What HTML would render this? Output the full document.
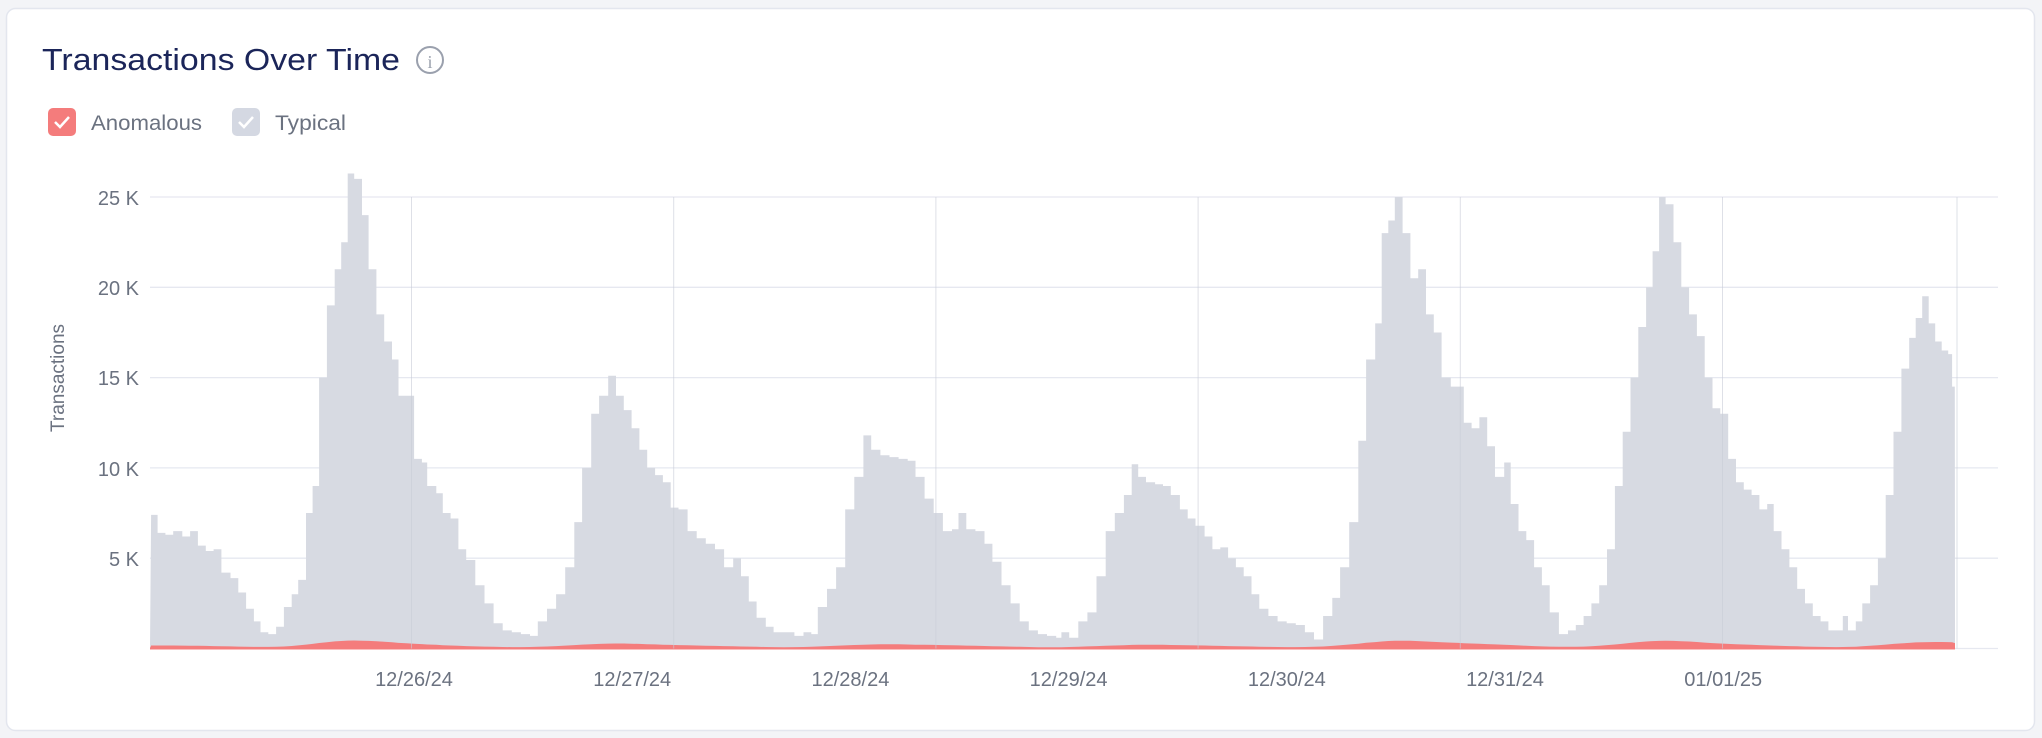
<!DOCTYPE html>
<html><head><meta charset="utf-8"><style>
html,body{margin:0;padding:0;background:#f3f4f7;width:2042px;height:738px;overflow:hidden;font-family:"Liberation Sans",sans-serif}
</style></head><body>
<svg id="s" width="2042" height="738" xmlns="http://www.w3.org/2000/svg" style="position:absolute;left:0;top:0">
<rect x="6.5" y="8.5" width="2028" height="722" rx="9" fill="#fff" stroke="#e3e6ee" stroke-width="1.5"/>
<text x="42" y="70" font-size="31" fill="#1b2559" textLength="358" lengthAdjust="spacingAndGlyphs" font-family="Liberation Sans, sans-serif">Transactions Over Time</text>
<circle cx="430" cy="60" r="13" fill="none" stroke="#9aa0ad" stroke-width="2"/>
<text x="430" y="68" font-size="18" fill="#9aa0ad" text-anchor="middle" font-family="Liberation Serif, serif">i</text>
<rect x="48" y="108" width="28" height="28" rx="5" fill="#f47c7c"/>
<path d="M55 122 l5 5 l9 -10" fill="none" stroke="#fff" stroke-width="2.5"/>
<text x="91" y="130" font-size="21" fill="#6b7280" textLength="111" lengthAdjust="spacingAndGlyphs">Anomalous</text>
<rect x="232" y="108" width="28" height="28" rx="5" fill="#d4d8e2"/>
<path d="M239 122 l5 5 l9 -10" fill="none" stroke="#fff" stroke-width="2.5"/>
<text x="275" y="130" font-size="21" fill="#6b7280" textLength="71" lengthAdjust="spacingAndGlyphs">Typical</text>
<g id="grid" stroke="#e6e8f0" stroke-width="1.3"></g>
<g id="bars"></g>
<g id="vgrid" stroke="#c9cdd8" stroke-width="1" opacity="0.6"></g>
<g font-size="20" fill="#6b7280" text-anchor="end">
<text x="139" y="205">25 K</text><text x="139" y="295">20 K</text><text x="139" y="385">15 K</text><text x="139" y="476">10 K</text><text x="139" y="566">5 K</text>
</g>
<text transform="translate(64,378) rotate(-90)" font-size="19" fill="#6b7280" text-anchor="middle">Transactions</text>
<g font-size="20" fill="#6b7280" text-anchor="middle" id="xl"></g>
</svg>
<script>
var S=1.3023, base=648.5, k=18.06;
var pts=[[116,7.4],[121,6.4],[127,6.3],[133,6.5],[140,6.2],[146,6.5],[152,5.7],[158,5.4],[164,5.5],[170,4.2],[177,3.9],[183,3.1],[189,2.2],[195,1.5],[200,0.9],[206,0.8],[212,1.2],[218,2.3],[224,3.0],[229,3.8],[235,7.5],[240,9],[245,15],[251,19],[257,21],[262,22.5],[267,26.3],[272,26],[278,24],[283,21],[289,18.5],[295,17],[301,16],[306,14],[312,14],[318,10.5],[324,10.3],[328,9],[335,8.6],[340,7.5],[346,7.2],[352,5.5],[358,4.9],[365,3.5],[372,2.5],[379,1.4],[386,1.0],[393,0.9],[400,0.8],[407,0.7],[413,1.5],[420,2.2],[427,3.0],[434,4.5],[441,7.0],[447,10],[454,13],[460,14],[467,15.1],[473,14],[479,13.2],[485,12.2],[491,11],[497,10],[503,9.6],[509,9.2],[515,7.8],[521,7.7],[528,6.5],[535,6.1],[542,5.8],[549,5.5],[556,4.5],[563,5.0],[569,4.0],[575,2.6],[581,1.7],[588,1.2],[594,0.9],[602,0.9],[610,0.7],[617,0.9],[623,0.8],[628,2.3],[635,3.3],[642,4.5],[649,7.7],[656,9.5],[663,11.8],[669,11],[676,10.7],[683,10.6],[690,10.5],[697,10.4],[703,9.5],[710,8.3],[717,7.5],[724,6.5],[731,6.6],[736,7.5],[742,6.6],[749,6.5],[756,5.8],[762,4.8],[769,3.5],[776,2.5],[783,1.5],[790,1.0],[797,0.8],[804,0.7],[811,0.6],[815,0.9],[821,0.6],[828,1.5],[835,2.0],[842,4.0],[849,6.5],[856,7.5],[863,8.5],[869,10.2],[874,9.5],[880,9.2],[887,9.1],[893,9.0],[899,8.5],[906,7.7],[912,7.2],[918,6.8],[925,6.2],[931,5.5],[937,5.6],[943,5.0],[949,4.5],[955,4.0],[961,3.0],[967,2.2],[974,1.8],[981,1.5],[988,1.4],[995,1.3],[1002,0.9],[1009,0.5],[1016,1.8],[1023,2.8],[1029,4.5],[1036,7],[1043,11.5],[1049,16],[1056,18],[1061,23],[1066,23.7],[1071,25],[1077,23],[1083,20.5],[1089,21],[1095,18.5],[1101,17.5],[1107,15],[1114,14.5],[1120,14.5],[1124,12.5],[1130,12.2],[1136,12.8],[1142,11.2],[1148,9.5],[1155,10.3],[1160,8.0],[1166,6.5],[1172,6.0],[1178,4.5],[1184,3.5],[1190,2.0],[1197,0.8],[1204,1.0],[1210,1.3],[1216,1.8],[1222,2.5],[1228,3.5],[1234,5.5],[1240,9],[1246,12],[1252,15],[1258,17.8],[1264,20],[1269,22],[1274,25],[1279,24.6],[1285,22.5],[1291,20],[1297,18.5],[1303,17.3],[1309,15],[1315,13.3],[1321,13.0],[1327,10.5],[1333,9.2],[1339,8.8],[1345,8.5],[1351,7.7],[1357,8.0],[1362,6.5],[1368,5.5],[1374,4.5],[1380,3.3],[1386,2.5],[1392,1.8],[1398,1.5],[1404,1.0],[1410,1.0],[1415,1.8],[1419,1.0],[1425,1.5],[1430,2.5],[1436,3.5],[1442,5.0],[1448,8.5],[1454,12],[1460,15.5],[1466,17.2],[1471,18.3],[1476,19.5],[1481,18],[1486,17],[1491,16.5],[1496,16.3],[1499,14.5],[1501,0]];
var ns="http://www.w3.org/2000/svg";
function el(t,a,p){var e=document.createElementNS(ns,t);for(var q in a)e.setAttribute(q,a[q]);p.appendChild(e);return e;}
var g=document.getElementById('grid');
for(var i=0;i<6;i++){var y=base-i*90.3;el('line',{x1:150,x2:1998,y1:y,y2:y},g);}
var vg=document.getElementById('vgrid'),xl=document.getElementById('xl');
var lab=['12/26/24','12/27/24','12/28/24','12/29/24','12/30/24','12/31/24','01/01/25'];
for(var i=0;i<6;i++){var x=411.5+i*262.2;el('line',{x1:x,x2:x,y1:197,y2:base},vg);}
for(var i=0;i<7;i++){var t=el('text',{x:414+i*218.2,y:686},xl);t.textContent=lab[i];}
el('line',{x1:1957,x2:1957,y1:197,y2:base},vg);
var d='M150 '+base;
for(var i=0;i<pts.length-1;i++){var x0=Math.max(150,pts[i][0]*S),x1=pts[i+1][0]*S,y=base-pts[i][1]*k;d+=' L'+x0.toFixed(1)+' '+y.toFixed(1)+' L'+x1.toFixed(1)+' '+y.toFixed(1);}
d+=' L1955 '+base+' Z';
var b=document.getElementById('bars');
el('path',{d:d,fill:'#d7dae2'},b);
var r='M150 '+base;
for(var i=0;i<pts.length-1;i++){var s=0,c=0;for(var j=Math.max(0,i-4);j<=Math.min(pts.length-2,i+4);j++){s+=pts[j][1];c++;}var v=0.05+0.018*(s/c);var x=Math.max(150,pts[i][0]*S);r+=' L'+x.toFixed(1)+' '+(base-v*k).toFixed(1);}
r+=' L1955 '+(base-0.3*k)+' L1955 '+base+' Z';
el('path',{d:r,fill:'#f47c7c'},b);
el('line',{x1:150,x2:1955,y1:base,y2:base,stroke:'#f47c7c','stroke-width':2},b);
</script>
</body></html>
